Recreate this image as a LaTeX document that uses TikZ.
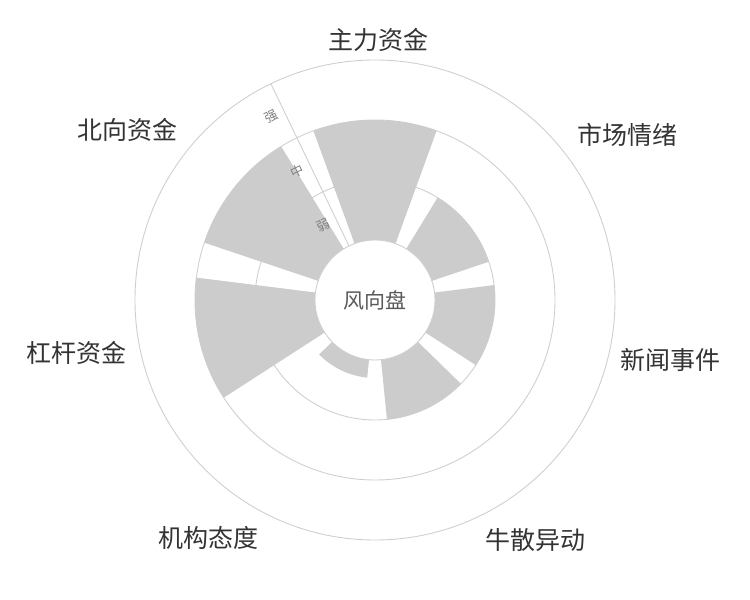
\documentclass[tikz,border=0pt]{standalone}
\usepackage{fontspec}
\setmainfont{Noto Sans CJK SC}
\usetikzlibrary{calc}
\definecolor{barfill}{HTML}{CCCCCC}
\definecolor{gridline}{HTML}{CFCFCF}
\definecolor{labeltext}{HTML}{333333}
\tikzset{
  gridring/.style={draw=gridline, line width=0.9pt},
  barsector/.style={fill=barfill},
  catlabel/.style={text=labeltext, font=\fontsize{25}{25}\selectfont},
  levellabel/.style={text=gray, font=\fontsize{13}{13}\selectfont, rotate=25.71}
}
\begin{document}
\begin{tikzpicture}[x=1pt,y=1pt]
  \useasboundingbox (0,0) rectangle (750,600);
  \coordinate (O) at (375,300);

  % grid rings
  \foreach \r in {120,180,240}
    \draw[gridring] (O) circle (\r);

  % bars: index / radius
  \foreach \i/\v in {0/180,1/120,2/120,3/120,4/78,5/180,6/180} {
    \pgfmathsetmacro{\a}{90-\i*360/7}
    \fill[barsector] ($(O)+(\a-20:60)$) -- ($(O)+(\a-20:\v)$)
      arc[start angle=\a-20, end angle=\a+20, radius=\v]
      -- ($(O)+(\a+20:60)$) arc[start angle=\a+20, end angle=\a-20, radius=60] -- cycle;
  }

  % hub
  \draw[gridring, fill=white] (O) circle (60);
  \node[text=black!65, font=\fontsize{21}{21}\selectfont] (hub) at (O) {风向盘};

  % level axis
  \coordinate (axisIn) at ($(O)+(115.71:60)$);
  \coordinate (axisOut) at ($(O)+(115.71:240)$);
  \draw[gridring] (axisIn) -- (axisOut);
  \node[levellabel] (weak) at ($(O)+(115.71:90)+(205.71:14)$) {弱};
  \node[levellabel] (mid) at ($(O)+(115.71:150)+(205.71:14)$) {中};
  \node[levellabel] (strong) at ($(O)+(115.71:210)+(205.71:14)$) {强};

  % category labels
  \node[catlabel] (zhuli) at (378,560) {主力资金};
  \node[catlabel] (qingxu) at (627,465) {市场情绪};
  \node[catlabel] (xinwen) at (670,240) {新闻事件};
  \node[catlabel] (niusan) at (535,60) {牛散异动};
  \node[catlabel] (jigou) at (208,62) {机构态度};
  \node[catlabel] (ganggan) at (77,247) {杠杆资金};
  \node[catlabel] (beixiang) at (127,470) {北向资金};
\end{tikzpicture}
\end{document}
